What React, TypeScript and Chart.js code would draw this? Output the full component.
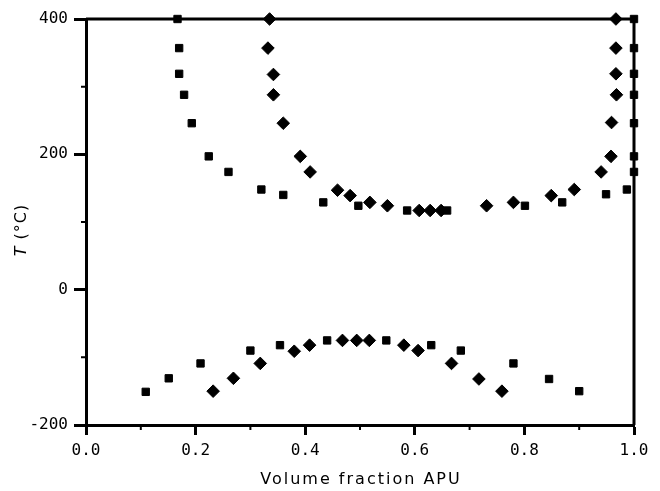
import React, { useEffect, useRef } from "react";
import { Chart, registerables } from "chart.js";

Chart.register(...registerables);

// Upper branch, squares
const squaresUpperX = [0.167, 0.17, 0.17, 0.179, 0.193, 0.224, 0.26, 0.32, 0.36, 0.433, 0.497, 0.586, 0.659, 0.801, 0.869, 0.949, 0.987, 1.0, 1.0, 1.0, 1.0, 1.0, 1.0, 1.0];
const squaresUpperY = [400, 357, 319, 288, 246, 197, 174, 148, 140, 129, 124, 117, 117, 124, 129, 141, 148, 174, 197, 246, 288, 319, 357, 400];

// Upper branch, diamonds
const diamondsUpperX = [0.335, 0.332, 0.342, 0.342, 0.36, 0.391, 0.409, 0.459, 0.482, 0.518, 0.55, 0.608, 0.628, 0.648, 0.731, 0.78, 0.849, 0.891, 0.94, 0.958, 0.959, 0.968, 0.967, 0.967, 0.967];
const diamondsUpperY = [400, 357, 318, 288, 246, 197, 174, 147, 139, 129, 124, 117, 117, 117, 124, 129, 139, 148, 174, 197, 247, 288, 319, 357, 400];

// Lower branch, squares
const squaresLowerX = [0.109, 0.151, 0.209, 0.3, 0.354, 0.44, 0.548, 0.63, 0.684, 0.78, 0.845, 0.9];
const squaresLowerY = [-151, -131, -109, -90, -82, -75, -75, -82, -90, -109, -132, -150];

// Lower branch, diamonds
const diamondsLowerX = [0.232, 0.269, 0.318, 0.38, 0.408, 0.468, 0.494, 0.517, 0.58, 0.606, 0.667, 0.717, 0.759];
const diamondsLowerY = [-150, -131, -109, -91, -82, -75, -75, -75, -82, -90, -109, -132, -150];

const xTicks = [0, 0.2, 0.4, 0.6, 0.8, 1.0];
const xMinorTicks = [0.1, 0.3, 0.5, 0.7, 0.9];
const yTicks = [-200, 0, 200, 400];
const yMinorTicks = [-100, 100, 300];

const xTitle = "Volume fraction APU";
const yTitleItalic = "T";
const yTitleRest = " (°C)";

const zip = (xs: number[], ys: number[]) => xs.map((x, i) => ({ x, y: ys[i] }));

const framePlugin = {
  id: "frameAndTitles",
  afterDraw(chart: any) {
    const { ctx, chartArea, scales } = chart;
    const { left, right, top, bottom } = chartArea;
    ctx.save();
    ctx.strokeStyle = "#000";
    ctx.lineWidth = 3;
    ctx.beginPath();
    ctx.moveTo(left, top);
    ctx.lineTo(right, top);
    ctx.lineTo(right, bottom);
    ctx.stroke();

    // minor ticks
    ctx.lineWidth = 2;
    ctx.beginPath();
    xMinorTicks.forEach((v) => {
      const px = scales.x.getPixelForValue(v);
      ctx.moveTo(px, bottom);
      ctx.lineTo(px, bottom + 5);
    });
    yMinorTicks.forEach((v) => {
      const py = scales.y.getPixelForValue(v);
      ctx.moveTo(left, py);
      ctx.lineTo(left - 5, py);
    });
    ctx.stroke();

    // x title
    ctx.fillStyle = "#000";
    ctx.font = '16px "DejaVu Sans"';
    (ctx as any).letterSpacing = "2px";
    ctx.textAlign = "center";
    ctx.textBaseline = "middle";
    ctx.fillText(xTitle, (left + right) / 2 + 1, 480);

    // y title
    (ctx as any).letterSpacing = "1px";
    ctx.save();
    ctx.translate(22, (top + bottom) / 2 + 8);
    ctx.rotate(-Math.PI / 2);
    ctx.textAlign = "left";
    ctx.font = 'italic 16px "DejaVu Sans"';
    const wT = ctx.measureText(yTitleItalic).width;
    ctx.font = '16px "DejaVu Sans"';
    const wR = ctx.measureText(yTitleRest).width;
    const start = -(wT + wR) / 2;
    ctx.font = 'italic 16px "DejaVu Sans"';
    ctx.fillText(yTitleItalic, start, 0);
    ctx.font = '16px "DejaVu Sans"';
    ctx.fillText(yTitleRest, start + wT, 0);
    ctx.restore();
    ctx.restore();
  },
};

export default function App() {
  const canvasRef = useRef<HTMLCanvasElement>(null);

  useEffect(() => {
    if (!canvasRef.current) return;
    const sq = { pointStyle: "rect", pointRadius: 5.2, backgroundColor: "#000", borderColor: "#000", borderWidth: 1, showLine: false, clip: false };
    const dm = { pointStyle: "rectRot", pointRadius: 6.3, backgroundColor: "#000", borderColor: "#000", borderWidth: 1, showLine: false, clip: false };
    const chart = new Chart(canvasRef.current, {
      type: "scatter",
      data: {
        datasets: [
          { label: "squares upper", data: zip(squaresUpperX, squaresUpperY), ...sq },
          { label: "diamonds upper", data: zip(diamondsUpperX, diamondsUpperY), ...dm },
          { label: "squares lower", data: zip(squaresLowerX, squaresLowerY), ...sq },
          { label: "diamonds lower", data: zip(diamondsLowerX, diamondsLowerY), ...dm },
        ] as any,
      },
      options: {
        animation: false,
        responsive: false,
        maintainAspectRatio: false,
        layout: { padding: { top: 19, right: 26, left: 0, bottom: 0 }, autoPadding: false } as any,
        plugins: { legend: { display: false }, tooltip: { enabled: false } },
        scales: {
          x: {
            type: "linear",
            min: 0,
            max: 1,
            afterFit: (s: any) => { s.height = 66; },
            afterBuildTicks: (s: any) => { s.ticks = xTicks.map((v) => ({ value: v })); },
            ticks: {
              callback: (v: any) => Number(v).toFixed(1),
              font: { family: "DejaVu Sans Mono", size: 16 },
              color: "#000",
              padding: 6,
              maxRotation: 0,
            },
            grid: { drawOnChartArea: false, tickLength: 10, tickWidth: 3, tickColor: "#000" },
            border: { color: "#000", width: 3 },
          },
          y: {
            type: "linear",
            min: -200,
            max: 400,
            afterFit: (s: any) => { s.width = 86; },
            afterBuildTicks: (s: any) => { s.ticks = yTicks.map((v) => ({ value: v })); },
            ticks: {
              callback: (v: any) => String(v),
              font: { family: "DejaVu Sans Mono", size: 16 },
              color: "#000",
              padding: 6,
            },
            grid: { drawOnChartArea: false, tickLength: 12, tickWidth: 3, tickColor: "#000" },
            border: { color: "#000", width: 3 },
          },
        },
      },
      plugins: [framePlugin],
    });
    return () => chart.destroy();
  }, []);

  return (
    <div style={{ position: "fixed", left: 0, top: 0, width: 660, height: 491, background: "#fff" }}>
      <canvas ref={canvasRef} width={660} height={491} style={{ display: "block" }} />
    </div>
  );
}
